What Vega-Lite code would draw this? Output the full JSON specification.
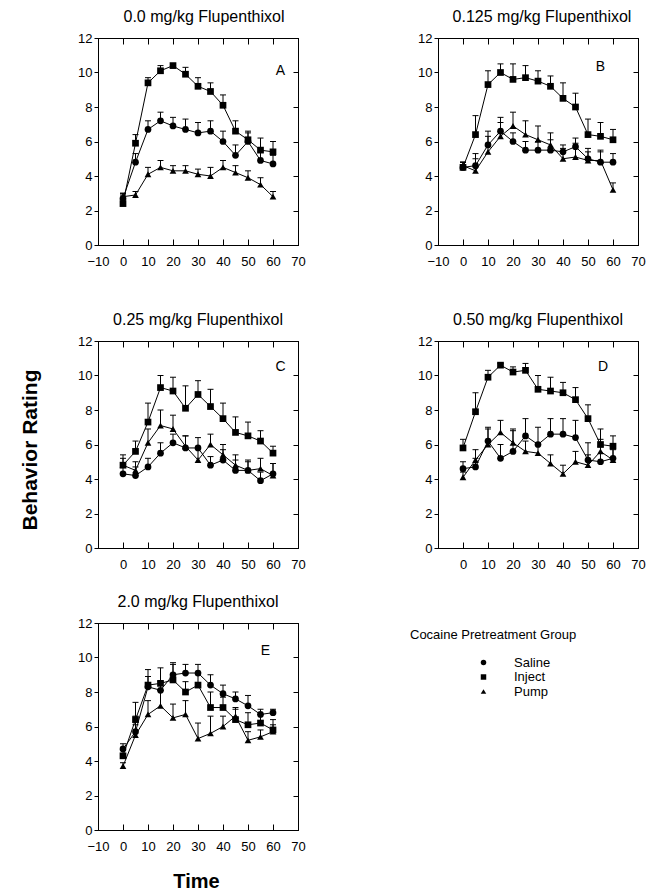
{
  "$schema": "https://vega.github.io/schema/vega-lite/v6.json",
  "padding": {"left": 20, "top": 8, "right": 5, "bottom": 5},
  "background": "white",
  "title": {"text": "Behavior Rating", "orient": "left", "anchor": "middle", "fontSize": 21, "fontWeight": "bold", "offset": 36, "color": "black", "font": "Liberation Sans"},
  "config": {
    "font": "Liberation Sans",
    "view": {"stroke": "black", "strokeWidth": 1},
    "axis": {"domainColor": "black", "tickColor": "black", "labelColor": "black", "titleColor": "black", "grid": false, "labelFontSize": 13, "domainWidth": 1, "tickWidth": 1, "labelFont": "Liberation Sans", "titleFont": "Liberation Sans"},
    "title": {"fontSize": 16, "fontWeight": "normal", "color": "black", "font": "Liberation Sans"}
  },
  "datasets": {
    "d": [
      {"panel":"A","group":"Inject","time":0,"mean":2.4,"upper":2.9},
      {"panel":"A","group":"Inject","time":5,"mean":5.9,"upper":6.4},
      {"panel":"A","group":"Inject","time":10,"mean":9.4,"upper":9.7},
      {"panel":"A","group":"Inject","time":15,"mean":10.1,"upper":10.4},
      {"panel":"A","group":"Inject","time":20,"mean":10.4,"upper":10.5},
      {"panel":"A","group":"Inject","time":25,"mean":9.9,"upper":10.3},
      {"panel":"A","group":"Inject","time":30,"mean":9.2,"upper":9.7},
      {"panel":"A","group":"Inject","time":35,"mean":8.9,"upper":9.4},
      {"panel":"A","group":"Inject","time":40,"mean":8.1,"upper":8.7},
      {"panel":"A","group":"Inject","time":45,"mean":6.6,"upper":7.2},
      {"panel":"A","group":"Inject","time":50,"mean":6.1,"upper":6.6},
      {"panel":"A","group":"Inject","time":55,"mean":5.5,"upper":6.2},
      {"panel":"A","group":"Inject","time":60,"mean":5.4,"upper":6.0},
      {"panel":"A","group":"Saline","time":0,"mean":2.7,"upper":3.0},
      {"panel":"A","group":"Saline","time":5,"mean":4.8,"upper":5.3},
      {"panel":"A","group":"Saline","time":10,"mean":6.7,"upper":7.2},
      {"panel":"A","group":"Saline","time":15,"mean":7.2,"upper":7.7},
      {"panel":"A","group":"Saline","time":20,"mean":6.9,"upper":7.4},
      {"panel":"A","group":"Saline","time":25,"mean":6.7,"upper":7.3},
      {"panel":"A","group":"Saline","time":30,"mean":6.5,"upper":7.1},
      {"panel":"A","group":"Saline","time":35,"mean":6.6,"upper":7.2},
      {"panel":"A","group":"Saline","time":40,"mean":6.0,"upper":6.6},
      {"panel":"A","group":"Saline","time":45,"mean":5.2,"upper":5.8},
      {"panel":"A","group":"Saline","time":50,"mean":6.0,"upper":6.5},
      {"panel":"A","group":"Saline","time":55,"mean":4.9,"upper":5.4},
      {"panel":"A","group":"Saline","time":60,"mean":4.7,"upper":5.2},
      {"panel":"A","group":"Pump","time":0,"mean":2.8,"upper":3.0},
      {"panel":"A","group":"Pump","time":5,"mean":2.9,"upper":3.1},
      {"panel":"A","group":"Pump","time":10,"mean":4.1,"upper":4.5},
      {"panel":"A","group":"Pump","time":15,"mean":4.5,"upper":4.9},
      {"panel":"A","group":"Pump","time":20,"mean":4.3,"upper":4.6},
      {"panel":"A","group":"Pump","time":25,"mean":4.3,"upper":4.6},
      {"panel":"A","group":"Pump","time":30,"mean":4.1,"upper":4.4},
      {"panel":"A","group":"Pump","time":35,"mean":4.0,"upper":4.5},
      {"panel":"A","group":"Pump","time":40,"mean":4.5,"upper":4.9},
      {"panel":"A","group":"Pump","time":45,"mean":4.2,"upper":4.6},
      {"panel":"A","group":"Pump","time":50,"mean":3.9,"upper":4.3},
      {"panel":"A","group":"Pump","time":55,"mean":3.5,"upper":3.9},
      {"panel":"A","group":"Pump","time":60,"mean":2.8,"upper":3.1},

      {"panel":"B","group":"Inject","time":0,"mean":4.5,"upper":4.8},
      {"panel":"B","group":"Inject","time":5,"mean":6.4,"upper":7.5},
      {"panel":"B","group":"Inject","time":10,"mean":9.3,"upper":10.1},
      {"panel":"B","group":"Inject","time":15,"mean":10.0,"upper":10.5},
      {"panel":"B","group":"Inject","time":20,"mean":9.6,"upper":10.5},
      {"panel":"B","group":"Inject","time":25,"mean":9.7,"upper":10.4},
      {"panel":"B","group":"Inject","time":30,"mean":9.5,"upper":10.1},
      {"panel":"B","group":"Inject","time":35,"mean":9.2,"upper":9.8},
      {"panel":"B","group":"Inject","time":40,"mean":8.5,"upper":9.4},
      {"panel":"B","group":"Inject","time":45,"mean":8.0,"upper":8.8},
      {"panel":"B","group":"Inject","time":50,"mean":6.4,"upper":7.3},
      {"panel":"B","group":"Inject","time":55,"mean":6.3,"upper":7.1},
      {"panel":"B","group":"Inject","time":60,"mean":6.1,"upper":6.7},
      {"panel":"B","group":"Saline","time":0,"mean":4.5,"upper":4.8},
      {"panel":"B","group":"Saline","time":5,"mean":4.6,"upper":5.3},
      {"panel":"B","group":"Saline","time":10,"mean":5.8,"upper":6.6},
      {"panel":"B","group":"Saline","time":15,"mean":6.6,"upper":7.4},
      {"panel":"B","group":"Saline","time":20,"mean":6.0,"upper":6.5},
      {"panel":"B","group":"Saline","time":25,"mean":5.5,"upper":6.0},
      {"panel":"B","group":"Saline","time":30,"mean":5.5,"upper":6.0},
      {"panel":"B","group":"Saline","time":35,"mean":5.5,"upper":6.1},
      {"panel":"B","group":"Saline","time":40,"mean":5.4,"upper":5.8},
      {"panel":"B","group":"Saline","time":45,"mean":5.7,"upper":6.2},
      {"panel":"B","group":"Saline","time":50,"mean":5.0,"upper":5.6},
      {"panel":"B","group":"Saline","time":55,"mean":4.8,"upper":5.5},
      {"panel":"B","group":"Saline","time":60,"mean":4.8,"upper":5.3},
      {"panel":"B","group":"Pump","time":0,"mean":4.6,"upper":4.8},
      {"panel":"B","group":"Pump","time":5,"mean":4.3,"upper":5.0},
      {"panel":"B","group":"Pump","time":10,"mean":5.4,"upper":6.3},
      {"panel":"B","group":"Pump","time":15,"mean":6.3,"upper":7.1},
      {"panel":"B","group":"Pump","time":20,"mean":6.9,"upper":7.7},
      {"panel":"B","group":"Pump","time":25,"mean":6.4,"upper":7.2},
      {"panel":"B","group":"Pump","time":30,"mean":6.1,"upper":6.9},
      {"panel":"B","group":"Pump","time":35,"mean":5.8,"upper":6.5},
      {"panel":"B","group":"Pump","time":40,"mean":5.0,"upper":5.6},
      {"panel":"B","group":"Pump","time":45,"mean":5.1,"upper":5.9},
      {"panel":"B","group":"Pump","time":50,"mean":4.9,"upper":5.4},
      {"panel":"B","group":"Pump","time":55,"mean":4.9,"upper":5.4},
      {"panel":"B","group":"Pump","time":60,"mean":3.2,"upper":3.6},

      {"panel":"C","group":"Inject","time":0,"mean":4.8,"upper":5.4},
      {"panel":"C","group":"Inject","time":5,"mean":5.6,"upper":6.2},
      {"panel":"C","group":"Inject","time":10,"mean":7.3,"upper":8.4},
      {"panel":"C","group":"Inject","time":15,"mean":9.3,"upper":10.0},
      {"panel":"C","group":"Inject","time":20,"mean":9.1,"upper":9.9},
      {"panel":"C","group":"Inject","time":25,"mean":8.1,"upper":9.4},
      {"panel":"C","group":"Inject","time":30,"mean":8.9,"upper":9.7},
      {"panel":"C","group":"Inject","time":35,"mean":8.2,"upper":9.2},
      {"panel":"C","group":"Inject","time":40,"mean":7.5,"upper":8.4},
      {"panel":"C","group":"Inject","time":45,"mean":6.7,"upper":7.6},
      {"panel":"C","group":"Inject","time":50,"mean":6.5,"upper":7.3},
      {"panel":"C","group":"Inject","time":55,"mean":6.2,"upper":6.8},
      {"panel":"C","group":"Inject","time":60,"mean":5.5,"upper":5.9},
      {"panel":"C","group":"Saline","time":0,"mean":4.3,"upper":4.8},
      {"panel":"C","group":"Saline","time":5,"mean":4.2,"upper":4.7},
      {"panel":"C","group":"Saline","time":10,"mean":4.7,"upper":5.2},
      {"panel":"C","group":"Saline","time":15,"mean":5.5,"upper":6.1},
      {"panel":"C","group":"Saline","time":20,"mean":6.1,"upper":6.6},
      {"panel":"C","group":"Saline","time":25,"mean":5.8,"upper":6.5},
      {"panel":"C","group":"Saline","time":30,"mean":5.8,"upper":6.4},
      {"panel":"C","group":"Saline","time":35,"mean":4.8,"upper":5.3},
      {"panel":"C","group":"Saline","time":40,"mean":5.1,"upper":5.7},
      {"panel":"C","group":"Saline","time":45,"mean":4.5,"upper":5.1},
      {"panel":"C","group":"Saline","time":50,"mean":4.5,"upper":5.0},
      {"panel":"C","group":"Saline","time":55,"mean":3.9,"upper":4.4},
      {"panel":"C","group":"Saline","time":60,"mean":4.3,"upper":4.9},
      {"panel":"C","group":"Pump","time":0,"mean":4.8,"upper":5.2},
      {"panel":"C","group":"Pump","time":5,"mean":4.5,"upper":5.0},
      {"panel":"C","group":"Pump","time":10,"mean":6.1,"upper":6.9},
      {"panel":"C","group":"Pump","time":15,"mean":7.1,"upper":8.0},
      {"panel":"C","group":"Pump","time":20,"mean":6.9,"upper":7.7},
      {"panel":"C","group":"Pump","time":25,"mean":5.9,"upper":6.5},
      {"panel":"C","group":"Pump","time":30,"mean":5.1,"upper":5.8},
      {"panel":"C","group":"Pump","time":35,"mean":6.0,"upper":6.6},
      {"panel":"C","group":"Pump","time":40,"mean":5.4,"upper":6.0},
      {"panel":"C","group":"Pump","time":45,"mean":4.8,"upper":5.4},
      {"panel":"C","group":"Pump","time":50,"mean":4.5,"upper":5.1},
      {"panel":"C","group":"Pump","time":55,"mean":4.6,"upper":5.2},
      {"panel":"C","group":"Pump","time":60,"mean":4.2,"upper":4.9},

      {"panel":"D","group":"Inject","time":0,"mean":5.8,"upper":6.3},
      {"panel":"D","group":"Inject","time":5,"mean":7.9,"upper":9.0},
      {"panel":"D","group":"Inject","time":10,"mean":9.9,"upper":10.3},
      {"panel":"D","group":"Inject","time":15,"mean":10.6,"upper":10.7},
      {"panel":"D","group":"Inject","time":20,"mean":10.2,"upper":10.5},
      {"panel":"D","group":"Inject","time":25,"mean":10.3,"upper":10.7},
      {"panel":"D","group":"Inject","time":30,"mean":9.2,"upper":10.0},
      {"panel":"D","group":"Inject","time":35,"mean":9.1,"upper":9.9},
      {"panel":"D","group":"Inject","time":40,"mean":9.0,"upper":9.6},
      {"panel":"D","group":"Inject","time":45,"mean":8.6,"upper":9.3},
      {"panel":"D","group":"Inject","time":50,"mean":7.5,"upper":8.3},
      {"panel":"D","group":"Inject","time":55,"mean":6.0,"upper":6.9},
      {"panel":"D","group":"Inject","time":60,"mean":5.9,"upper":6.5},
      {"panel":"D","group":"Saline","time":0,"mean":4.6,"upper":5.0},
      {"panel":"D","group":"Saline","time":5,"mean":4.7,"upper":5.2},
      {"panel":"D","group":"Saline","time":10,"mean":6.2,"upper":7.0},
      {"panel":"D","group":"Saline","time":15,"mean":5.2,"upper":6.0},
      {"panel":"D","group":"Saline","time":20,"mean":5.6,"upper":6.8},
      {"panel":"D","group":"Saline","time":25,"mean":6.5,"upper":7.5},
      {"panel":"D","group":"Saline","time":30,"mean":6.0,"upper":7.0},
      {"panel":"D","group":"Saline","time":35,"mean":6.6,"upper":7.5},
      {"panel":"D","group":"Saline","time":40,"mean":6.6,"upper":7.5},
      {"panel":"D","group":"Saline","time":45,"mean":6.4,"upper":7.4},
      {"panel":"D","group":"Saline","time":50,"mean":5.1,"upper":6.1},
      {"panel":"D","group":"Saline","time":55,"mean":5.0,"upper":5.9},
      {"panel":"D","group":"Saline","time":60,"mean":5.2,"upper":5.8},
      {"panel":"D","group":"Pump","time":0,"mean":4.1,"upper":4.4},
      {"panel":"D","group":"Pump","time":5,"mean":5.1,"upper":5.7},
      {"panel":"D","group":"Pump","time":10,"mean":6.0,"upper":6.9},
      {"panel":"D","group":"Pump","time":15,"mean":6.7,"upper":7.4},
      {"panel":"D","group":"Pump","time":20,"mean":6.1,"upper":6.9},
      {"panel":"D","group":"Pump","time":25,"mean":5.6,"upper":6.2},
      {"panel":"D","group":"Pump","time":30,"mean":5.5,"upper":6.1},
      {"panel":"D","group":"Pump","time":35,"mean":4.9,"upper":5.4},
      {"panel":"D","group":"Pump","time":40,"mean":4.3,"upper":4.8},
      {"panel":"D","group":"Pump","time":45,"mean":5.0,"upper":5.6},
      {"panel":"D","group":"Pump","time":50,"mean":4.8,"upper":5.4},
      {"panel":"D","group":"Pump","time":55,"mean":5.6,"upper":6.3},
      {"panel":"D","group":"Pump","time":60,"mean":5.1,"upper":5.7},

      {"panel":"E","group":"Inject","time":0,"mean":4.3,"upper":4.7},
      {"panel":"E","group":"Inject","time":5,"mean":6.4,"upper":7.4},
      {"panel":"E","group":"Inject","time":10,"mean":8.4,"upper":9.3},
      {"panel":"E","group":"Inject","time":15,"mean":8.5,"upper":9.4},
      {"panel":"E","group":"Inject","time":20,"mean":8.7,"upper":9.6},
      {"panel":"E","group":"Inject","time":25,"mean":8.0,"upper":8.6},
      {"panel":"E","group":"Inject","time":30,"mean":8.4,"upper":9.0},
      {"panel":"E","group":"Inject","time":35,"mean":7.1,"upper":8.0},
      {"panel":"E","group":"Inject","time":40,"mean":7.1,"upper":7.7},
      {"panel":"E","group":"Inject","time":45,"mean":6.4,"upper":7.0},
      {"panel":"E","group":"Inject","time":50,"mean":6.1,"upper":6.8},
      {"panel":"E","group":"Inject","time":55,"mean":6.2,"upper":6.7},
      {"panel":"E","group":"Inject","time":60,"mean":5.8,"upper":6.4},
      {"panel":"E","group":"Saline","time":0,"mean":4.7,"upper":5.0},
      {"panel":"E","group":"Saline","time":5,"mean":5.7,"upper":6.6},
      {"panel":"E","group":"Saline","time":10,"mean":8.3,"upper":8.9},
      {"panel":"E","group":"Saline","time":15,"mean":8.1,"upper":8.6},
      {"panel":"E","group":"Saline","time":20,"mean":9.0,"upper":9.7},
      {"panel":"E","group":"Saline","time":25,"mean":9.1,"upper":9.6},
      {"panel":"E","group":"Saline","time":30,"mean":9.1,"upper":9.6},
      {"panel":"E","group":"Saline","time":35,"mean":8.4,"upper":9.0},
      {"panel":"E","group":"Saline","time":40,"mean":7.9,"upper":8.4},
      {"panel":"E","group":"Saline","time":45,"mean":7.6,"upper":8.0},
      {"panel":"E","group":"Saline","time":50,"mean":7.2,"upper":7.8},
      {"panel":"E","group":"Saline","time":55,"mean":6.7,"upper":7.0},
      {"panel":"E","group":"Saline","time":60,"mean":6.8,"upper":7.0},
      {"panel":"E","group":"Pump","time":0,"mean":3.7,"upper":3.9},
      {"panel":"E","group":"Pump","time":5,"mean":5.5,"upper":6.1},
      {"panel":"E","group":"Pump","time":10,"mean":6.7,"upper":7.5},
      {"panel":"E","group":"Pump","time":15,"mean":7.2,"upper":8.1},
      {"panel":"E","group":"Pump","time":20,"mean":6.5,"upper":7.3},
      {"panel":"E","group":"Pump","time":25,"mean":6.7,"upper":7.5},
      {"panel":"E","group":"Pump","time":30,"mean":5.3,"upper":6.2},
      {"panel":"E","group":"Pump","time":35,"mean":5.6,"upper":6.6},
      {"panel":"E","group":"Pump","time":40,"mean":6.0,"upper":6.6},
      {"panel":"E","group":"Pump","time":45,"mean":6.6,"upper":7.1},
      {"panel":"E","group":"Pump","time":50,"mean":5.2,"upper":5.7},
      {"panel":"E","group":"Pump","time":55,"mean":5.4,"upper":5.8},
      {"panel":"E","group":"Pump","time":60,"mean":5.7,"upper":6.1}
    ],
    "letters": [
      {"panel":"A","letter":"A","lx":63,"ly":10.1},
      {"panel":"B","letter":"B","lx":55,"ly":10.3},
      {"panel":"C","letter":"C","lx":63,"ly":10.5},
      {"panel":"D","letter":"D","lx":56,"ly":10.5},
      {"panel":"E","letter":"E","lx":57,"ly":10.4}
    ]
  },
  "spacing": 42,
  "vconcat": [
    {
      "bounds": "flush",
      "spacing": 140,
      "hconcat": [
        {
          "width": 200, "height": 207,
          "title": {"text": "0.0 mg/kg Flupenthixol", "dx": 6, "offset": 7},
          "layer": [
            {"data": {"name": "d"}, "transform": [{"filter": "datum.panel === 'A'"}],
             "mark": {"type": "rule", "color": "black", "strokeWidth": 1},
             "encoding": {
               "x": {"field": "time", "type": "quantitative", "scale": {"domain": [-10, 70], "nice": false}, "axis": {"orient": "bottom", "values": [-10,0,10,20,30,40,50,60,70], "tickSize": -6, "labelPadding": 16, "title": null, "labelFlush": false, "labelOverlap": false}},
               "y": {"field": "mean", "type": "quantitative", "scale": {"domain": [0, 12], "nice": false}, "axis": {"orient": "left", "values": [0,2,4,6,8,10,12], "tickSize": 4, "labelPadding": 2, "title": null, "labelOverlap": false}},
               "y2": {"field": "upper"}}},
            {"data": {"name": "d"}, "transform": [{"filter": "datum.panel === 'A'"}],
             "mark": {"type": "tick", "orient": "horizontal", "color": "black", "size": 6, "thickness": 1, "opacity": 1},
             "encoding": {
               "x": {"field": "time", "type": "quantitative", "scale": {"domain": [-10, 70], "nice": false}, "axis": {"orient": "top", "values": [-10,0,10,20,30,40,50,60,70], "tickSize": -6, "labels": false, "title": null}},
               "y": {"field": "upper", "type": "quantitative", "scale": {"domain": [0, 12], "nice": false}, "axis": {"orient": "right", "values": [0,2,4,6,8,10,12], "tickSize": -5, "labels": false, "title": null}}}},
            {"data": {"name": "d"}, "transform": [{"filter": "datum.panel === 'A'"}],
             "mark": {"type": "line", "color": "black", "strokeWidth": 1},
             "encoding": {
               "x": {"field": "time", "type": "quantitative", "scale": {"domain": [-10, 70], "nice": false}, "axis": null},
               "y": {"field": "mean", "type": "quantitative", "scale": {"domain": [0, 12], "nice": false}, "axis": null},
               "detail": {"field": "group", "type": "nominal"}}},
            {"data": {"name": "d"}, "transform": [{"filter": "datum.panel === 'A'"}],
             "mark": {"type": "point", "filled": true, "color": "black", "size": 45, "opacity": 1},
             "encoding": {
               "x": {"field": "time", "type": "quantitative", "scale": {"domain": [-10, 70], "nice": false}, "axis": null},
               "y": {"field": "mean", "type": "quantitative", "scale": {"domain": [0, 12], "nice": false}, "axis": null},
               "shape": {"field": "group", "type": "nominal", "scale": {"domain": ["Saline", "Inject", "Pump"], "range": ["circle", "square", "triangle-up"]},
                 "legend": {"title": "Cocaine Pretreatment Group", "orient": "none", "legendX": 312, "legendY": 591, "titleFontSize": 13, "titleFontWeight": "normal", "titleColor": "black", "labelFontSize": 13, "labelColor": "black", "symbolOffset": 67, "labelOffset": 24, "symbolSize": 30, "symbolFillColor": "black", "symbolStrokeColor": "black", "titlePadding": 14, "rowPadding": 0.5}}}},
            {"data": {"name": "letters"}, "transform": [{"filter": "datum.panel === 'A'"}],
             "mark": {"type": "text", "fontSize": 14, "color": "black"},
             "encoding": {
               "x": {"field": "lx", "type": "quantitative", "scale": {"domain": [-10, 70], "nice": false}, "axis": null},
               "y": {"field": "ly", "type": "quantitative", "scale": {"domain": [0, 12], "nice": false}, "axis": null},
               "text": {"field": "letter"}}}
          ],
          "resolve": {"axis": {"x": "independent", "y": "independent"}}
        },
        {
          "width": 200, "height": 207,
          "title": {"text": "0.125 mg/kg Flupenthixol", "dx": 4, "offset": 7},
          "layer": [
            {"data": {"name": "d"}, "transform": [{"filter": "datum.panel === 'B'"}],
             "mark": {"type": "rule", "color": "black", "strokeWidth": 1},
             "encoding": {
               "x": {"field": "time", "type": "quantitative", "scale": {"domain": [-10, 70], "nice": false}, "axis": {"orient": "bottom", "values": [-10,0,10,20,30,40,50,60,70], "tickSize": -6, "labelPadding": 16, "title": null, "labelFlush": false, "labelOverlap": false}},
               "y": {"field": "mean", "type": "quantitative", "scale": {"domain": [0, 12], "nice": false}, "axis": {"orient": "left", "values": [0,2,4,6,8,10,12], "tickSize": 4, "labelPadding": 2, "title": null, "labelOverlap": false}},
               "y2": {"field": "upper"}}},
            {"data": {"name": "d"}, "transform": [{"filter": "datum.panel === 'B'"}],
             "mark": {"type": "tick", "orient": "horizontal", "color": "black", "size": 6, "thickness": 1, "opacity": 1},
             "encoding": {
               "x": {"field": "time", "type": "quantitative", "scale": {"domain": [-10, 70], "nice": false}, "axis": {"orient": "top", "values": [-10,0,10,20,30,40,50,60,70], "tickSize": -6, "labels": false, "title": null}},
               "y": {"field": "upper", "type": "quantitative", "scale": {"domain": [0, 12], "nice": false}, "axis": {"orient": "right", "values": [0,2,4,6,8,10,12], "tickSize": -5, "labels": false, "title": null}}}},
            {"data": {"name": "d"}, "transform": [{"filter": "datum.panel === 'B'"}],
             "mark": {"type": "line", "color": "black", "strokeWidth": 1},
             "encoding": {
               "x": {"field": "time", "type": "quantitative", "scale": {"domain": [-10, 70], "nice": false}, "axis": null},
               "y": {"field": "mean", "type": "quantitative", "scale": {"domain": [0, 12], "nice": false}, "axis": null},
               "detail": {"field": "group", "type": "nominal"}}},
            {"data": {"name": "d"}, "transform": [{"filter": "datum.panel === 'B'"}],
             "mark": {"type": "point", "filled": true, "color": "black", "size": 45, "opacity": 1},
             "encoding": {
               "x": {"field": "time", "type": "quantitative", "scale": {"domain": [-10, 70], "nice": false}, "axis": null},
               "y": {"field": "mean", "type": "quantitative", "scale": {"domain": [0, 12], "nice": false}, "axis": null},
               "shape": {"field": "group", "type": "nominal", "scale": {"domain": ["Saline", "Inject", "Pump"], "range": ["circle", "square", "triangle-up"]},
                 "legend": {"title": "Cocaine Pretreatment Group", "orient": "none", "legendX": 312, "legendY": 591, "titleFontSize": 13, "titleFontWeight": "normal", "titleColor": "black", "labelFontSize": 13, "labelColor": "black", "symbolOffset": 67, "labelOffset": 24, "symbolSize": 30, "symbolFillColor": "black", "symbolStrokeColor": "black", "titlePadding": 14, "rowPadding": 0.5}}}},
            {"data": {"name": "letters"}, "transform": [{"filter": "datum.panel === 'B'"}],
             "mark": {"type": "text", "fontSize": 14, "color": "black"},
             "encoding": {
               "x": {"field": "lx", "type": "quantitative", "scale": {"domain": [-10, 70], "nice": false}, "axis": null},
               "y": {"field": "ly", "type": "quantitative", "scale": {"domain": [0, 12], "nice": false}, "axis": null},
               "text": {"field": "letter"}}}
          ],
          "resolve": {"axis": {"x": "independent", "y": "independent"}}
        }
      ]
    },
    {
      "bounds": "flush",
      "columns": 2,
      "spacing": {"row": 75, "column": 140},
      "concat": [
        {
          "width": 200, "height": 207,
          "title": {"text": "0.25 mg/kg Flupenthixol", "dx": 0, "offset": 7},
          "layer": [
            {"data": {"name": "d"}, "transform": [{"filter": "datum.panel === 'C'"}],
             "mark": {"type": "rule", "color": "black", "strokeWidth": 1},
             "encoding": {
               "x": {"field": "time", "type": "quantitative", "scale": {"domain": [-10, 70], "nice": false}, "axis": {"orient": "bottom", "values": [-10,0,10,20,30,40,50,60,70], "labelExpr": "datum.value === -10 ? '' : datum.label", "tickSize": -6, "labelPadding": 16, "title": null, "labelFlush": false, "labelOverlap": false}},
               "y": {"field": "mean", "type": "quantitative", "scale": {"domain": [0, 12], "nice": false}, "axis": {"orient": "left", "values": [0,2,4,6,8,10,12], "tickSize": 4, "labelPadding": 2, "title": null, "labelOverlap": false}},
               "y2": {"field": "upper"}}},
            {"data": {"name": "d"}, "transform": [{"filter": "datum.panel === 'C'"}],
             "mark": {"type": "tick", "orient": "horizontal", "color": "black", "size": 6, "thickness": 1, "opacity": 1},
             "encoding": {
               "x": {"field": "time", "type": "quantitative", "scale": {"domain": [-10, 70], "nice": false}, "axis": {"orient": "top", "values": [-10,0,10,20,30,40,50,60,70], "tickSize": -6, "labels": false, "title": null}},
               "y": {"field": "upper", "type": "quantitative", "scale": {"domain": [0, 12], "nice": false}, "axis": {"orient": "right", "values": [0,2,4,6,8,10,12], "tickSize": -5, "labels": false, "title": null}}}},
            {"data": {"name": "d"}, "transform": [{"filter": "datum.panel === 'C'"}],
             "mark": {"type": "line", "color": "black", "strokeWidth": 1},
             "encoding": {
               "x": {"field": "time", "type": "quantitative", "scale": {"domain": [-10, 70], "nice": false}, "axis": null},
               "y": {"field": "mean", "type": "quantitative", "scale": {"domain": [0, 12], "nice": false}, "axis": null},
               "detail": {"field": "group", "type": "nominal"}}},
            {"data": {"name": "d"}, "transform": [{"filter": "datum.panel === 'C'"}],
             "mark": {"type": "point", "filled": true, "color": "black", "size": 45, "opacity": 1},
             "encoding": {
               "x": {"field": "time", "type": "quantitative", "scale": {"domain": [-10, 70], "nice": false}, "axis": null},
               "y": {"field": "mean", "type": "quantitative", "scale": {"domain": [0, 12], "nice": false}, "axis": null},
               "shape": {"field": "group", "type": "nominal", "scale": {"domain": ["Saline", "Inject", "Pump"], "range": ["circle", "square", "triangle-up"]},
                 "legend": {"title": "Cocaine Pretreatment Group", "orient": "none", "legendX": 312, "legendY": 591, "titleFontSize": 13, "titleFontWeight": "normal", "titleColor": "black", "labelFontSize": 13, "labelColor": "black", "symbolOffset": 67, "labelOffset": 24, "symbolSize": 30, "symbolFillColor": "black", "symbolStrokeColor": "black", "titlePadding": 14, "rowPadding": 0.5}}}},
            {"data": {"name": "letters"}, "transform": [{"filter": "datum.panel === 'C'"}],
             "mark": {"type": "text", "fontSize": 14, "color": "black"},
             "encoding": {
               "x": {"field": "lx", "type": "quantitative", "scale": {"domain": [-10, 70], "nice": false}, "axis": null},
               "y": {"field": "ly", "type": "quantitative", "scale": {"domain": [0, 12], "nice": false}, "axis": null},
               "text": {"field": "letter"}}}
          ],
          "resolve": {"axis": {"x": "independent", "y": "independent"}}
        },
        {
          "width": 200, "height": 207,
          "title": {"text": "0.50 mg/kg Flupenthixol", "dx": 0, "offset": 7},
          "layer": [
            {"data": {"name": "d"}, "transform": [{"filter": "datum.panel === 'D'"}],
             "mark": {"type": "rule", "color": "black", "strokeWidth": 1},
             "encoding": {
               "x": {"field": "time", "type": "quantitative", "scale": {"domain": [-10, 70], "nice": false}, "axis": {"orient": "bottom", "values": [-10,0,10,20,30,40,50,60,70], "labelExpr": "datum.value === -10 ? '' : datum.label", "tickSize": -6, "labelPadding": 16, "title": null, "labelFlush": false, "labelOverlap": false}},
               "y": {"field": "mean", "type": "quantitative", "scale": {"domain": [0, 12], "nice": false}, "axis": {"orient": "left", "values": [0,2,4,6,8,10,12], "tickSize": 4, "labelPadding": 2, "title": null, "labelOverlap": false}},
               "y2": {"field": "upper"}}},
            {"data": {"name": "d"}, "transform": [{"filter": "datum.panel === 'D'"}],
             "mark": {"type": "tick", "orient": "horizontal", "color": "black", "size": 6, "thickness": 1, "opacity": 1},
             "encoding": {
               "x": {"field": "time", "type": "quantitative", "scale": {"domain": [-10, 70], "nice": false}, "axis": {"orient": "top", "values": [-10,0,10,20,30,40,50,60,70], "tickSize": -6, "labels": false, "title": null}},
               "y": {"field": "upper", "type": "quantitative", "scale": {"domain": [0, 12], "nice": false}, "axis": {"orient": "right", "values": [0,2,4,6,8,10,12], "tickSize": -5, "labels": false, "title": null}}}},
            {"data": {"name": "d"}, "transform": [{"filter": "datum.panel === 'D'"}],
             "mark": {"type": "line", "color": "black", "strokeWidth": 1},
             "encoding": {
               "x": {"field": "time", "type": "quantitative", "scale": {"domain": [-10, 70], "nice": false}, "axis": null},
               "y": {"field": "mean", "type": "quantitative", "scale": {"domain": [0, 12], "nice": false}, "axis": null},
               "detail": {"field": "group", "type": "nominal"}}},
            {"data": {"name": "d"}, "transform": [{"filter": "datum.panel === 'D'"}],
             "mark": {"type": "point", "filled": true, "color": "black", "size": 45, "opacity": 1},
             "encoding": {
               "x": {"field": "time", "type": "quantitative", "scale": {"domain": [-10, 70], "nice": false}, "axis": null},
               "y": {"field": "mean", "type": "quantitative", "scale": {"domain": [0, 12], "nice": false}, "axis": null},
               "shape": {"field": "group", "type": "nominal", "scale": {"domain": ["Saline", "Inject", "Pump"], "range": ["circle", "square", "triangle-up"]},
                 "legend": {"title": "Cocaine Pretreatment Group", "orient": "none", "legendX": 312, "legendY": 591, "titleFontSize": 13, "titleFontWeight": "normal", "titleColor": "black", "labelFontSize": 13, "labelColor": "black", "symbolOffset": 67, "labelOffset": 24, "symbolSize": 30, "symbolFillColor": "black", "symbolStrokeColor": "black", "titlePadding": 14, "rowPadding": 0.5}}}},
            {"data": {"name": "letters"}, "transform": [{"filter": "datum.panel === 'D'"}],
             "mark": {"type": "text", "fontSize": 14, "color": "black"},
             "encoding": {
               "x": {"field": "lx", "type": "quantitative", "scale": {"domain": [-10, 70], "nice": false}, "axis": null},
               "y": {"field": "ly", "type": "quantitative", "scale": {"domain": [0, 12], "nice": false}, "axis": null},
               "text": {"field": "letter"}}}
          ],
          "resolve": {"axis": {"x": "independent", "y": "independent"}}
        },
        {
          "width": 200, "height": 207,
          "title": {"text": "2.0 mg/kg Flupenthixol", "dx": 0, "offset": 7},
          "layer": [
            {"data": {"name": "d"}, "transform": [{"filter": "datum.panel === 'E'"}],
             "mark": {"type": "rule", "color": "black", "strokeWidth": 1},
             "encoding": {
               "x": {"field": "time", "type": "quantitative", "scale": {"domain": [-10, 70], "nice": false}, "axis": {"orient": "bottom", "values": [-10,0,10,20,30,40,50,60,70], "tickSize": -6, "labelPadding": 16, "title": "Time", "titleFontSize": 20, "titleFontWeight": "bold", "titlePadding": 18, "titleX": 98, "labelFlush": false, "labelOverlap": false}},
               "y": {"field": "mean", "type": "quantitative", "scale": {"domain": [0, 12], "nice": false}, "axis": {"orient": "left", "values": [0,2,4,6,8,10,12], "tickSize": 4, "labelPadding": 2, "title": null, "labelOverlap": false}},
               "y2": {"field": "upper"}}},
            {"data": {"name": "d"}, "transform": [{"filter": "datum.panel === 'E'"}],
             "mark": {"type": "tick", "orient": "horizontal", "color": "black", "size": 6, "thickness": 1, "opacity": 1},
             "encoding": {
               "x": {"field": "time", "type": "quantitative", "scale": {"domain": [-10, 70], "nice": false}, "axis": {"orient": "top", "values": [-10,0,10,20,30,40,50,60,70], "tickSize": -6, "labels": false, "title": null}},
               "y": {"field": "upper", "type": "quantitative", "scale": {"domain": [0, 12], "nice": false}, "axis": {"orient": "right", "values": [0,2,4,6,8,10,12], "tickSize": -5, "labels": false, "title": null}}}},
            {"data": {"name": "d"}, "transform": [{"filter": "datum.panel === 'E'"}],
             "mark": {"type": "line", "color": "black", "strokeWidth": 1},
             "encoding": {
               "x": {"field": "time", "type": "quantitative", "scale": {"domain": [-10, 70], "nice": false}, "axis": null},
               "y": {"field": "mean", "type": "quantitative", "scale": {"domain": [0, 12], "nice": false}, "axis": null},
               "detail": {"field": "group", "type": "nominal"}}},
            {"data": {"name": "d"}, "transform": [{"filter": "datum.panel === 'E'"}],
             "mark": {"type": "point", "filled": true, "color": "black", "size": 45, "opacity": 1},
             "encoding": {
               "x": {"field": "time", "type": "quantitative", "scale": {"domain": [-10, 70], "nice": false}, "axis": null},
               "y": {"field": "mean", "type": "quantitative", "scale": {"domain": [0, 12], "nice": false}, "axis": null},
               "shape": {"field": "group", "type": "nominal", "scale": {"domain": ["Saline", "Inject", "Pump"], "range": ["circle", "square", "triangle-up"]},
                 "legend": {"title": "Cocaine Pretreatment Group", "orient": "none", "legendX": 312, "legendY": 591, "titleFontSize": 13, "titleFontWeight": "normal", "titleColor": "black", "labelFontSize": 13, "labelColor": "black", "symbolOffset": 67, "labelOffset": 24, "symbolSize": 30, "symbolFillColor": "black", "symbolStrokeColor": "black", "titlePadding": 14, "rowPadding": 0.5}}}},
            {"data": {"name": "letters"}, "transform": [{"filter": "datum.panel === 'E'"}],
             "mark": {"type": "text", "fontSize": 14, "color": "black"},
             "encoding": {
               "x": {"field": "lx", "type": "quantitative", "scale": {"domain": [-10, 70], "nice": false}, "axis": null},
               "y": {"field": "ly", "type": "quantitative", "scale": {"domain": [0, 12], "nice": false}, "axis": null},
               "text": {"field": "letter"}}}
          ],
          "resolve": {"axis": {"x": "independent", "y": "independent"}}
        }
      ]
    }
  ]
}
